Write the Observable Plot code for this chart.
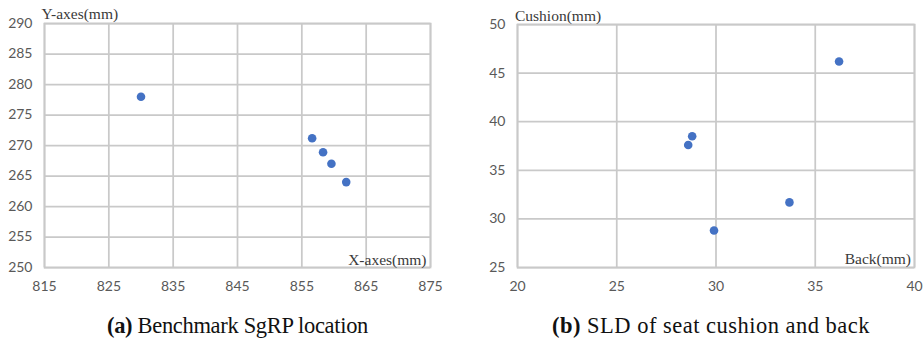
<!DOCTYPE html>
<html><head><meta charset="utf-8">
<script src="https://cdn.jsdelivr.net/npm/d3@7"></script>
<script src="https://cdn.jsdelivr.net/npm/@observablehq/plot@0.6"></script>
<style>
body{margin:0;background:#fff;}
#wrap{position:relative;width:923px;height:345px;overflow:hidden;background:#fff;}
#a{position:absolute;left:0;top:0;}
#b{position:absolute;left:460px;top:0;}
.cap{position:absolute;top:314.5px;font-family:"Liberation Serif","Times New Roman",serif;font-size:22.5px;line-height:1;color:#111;white-space:nowrap;}
</style></head><body>
<div id="wrap"><div id="a"></div><div id="b"></div>
<div class="cap" id="capA"><b>(a)</b> Benchmark SgRP location</div>
<div class="cap" id="capB"><b>(b)</b> SLD of seat cushion and back</div>
</div>
<script>
// (a) Benchmark SgRP location
const xA = [830, 856.6, 858.3, 859.6, 861.9];
const yA = [278, 271.2, 268.9, 267.0, 264.0];
const xTicksA = [815, 825, 835, 845, 855, 865, 875];
const yTicksA = [250, 255, 260, 265, 270, 275, 280, 285, 290];
const xLabelA = "X-axes(mm)";
const yLabelA = "Y-axes(mm)";

// (b) SLD of seat cushion and back
const xB = [36.2, 28.8, 28.6, 33.7, 29.9];
const yB = [46.2, 38.5, 37.6, 31.7, 28.8];
const xTicksB = [20, 25, 30, 35, 40];
const yTicksB = [25, 30, 35, 40, 45, 50];
const xLabelB = "Back(mm)";
const yLabelB = "Cushion(mm)";

const GRID = "#c9c9c9";
const serif = '"Liberation Serif", "Times New Roman", serif';

// captions: keep one size, spread letters to the reference's extents
function placeCap(id, left, right) {
  const el = document.getElementById(id);
  const w = el.getBoundingClientRect().width;
  const n = el.textContent.length;
  el.style.letterSpacing = ((right - left - w) / n) + "px";
  el.style.left = left + "px";
}
placeCap("capA", 107, 368);
placeCap("capB", 552, 870);

function chart(xs, ys, xTicks, yTicks, xLabel, yLabel, o) {
  const data = xs.map((x, i) => ({x, y: ys[i]}));
  return Plot.plot({
    width: o.width, height: 300,
    marginLeft: o.ml, marginRight: o.mr, marginTop: o.mt, marginBottom: o.mb,
    x: {domain: [xTicks[0], xTicks[xTicks.length - 1]]},
    y: {domain: [yTicks[0], yTicks[yTicks.length - 1]]},
    style: {fontFamily: "Lato, sans-serif", fontSize: "14px", color: "#595959", background: "#fff", overflow: "visible"},
    marks: [
      Plot.gridX(xTicks, {stroke: GRID, strokeOpacity: 1, strokeWidth: 1.75}),
      Plot.gridY(yTicks, {stroke: GRID, strokeOpacity: 1, strokeWidth: 1.75}),
      Plot.frame({stroke: GRID, strokeWidth: 1.75}),
      Plot.axisX(xTicks, {tickSize: 0, tickPadding: 14, label: null, fill: "#595959", fontSize: 14}),
      Plot.axisY(yTicks, {tickSize: 0, tickPadding: 12, label: null, fill: "#595959", fontSize: 14}),
      Plot.dot(data, {x: "x", y: "y", r: 4.3, fill: "#4472C4", stroke: "none"}),
      Plot.text([yLabel], {text: d => d, frameAnchor: "top-left", textAnchor: "start", lineAnchor: "bottom", dx: o.ydx, dy: o.ydy, fontFamily: serif, fontSize: 15.5, fill: "#3a3a3a"}),
      Plot.text([xLabel], {text: d => d, frameAnchor: "bottom-right", textAnchor: "end", lineAnchor: "bottom", dx: o.xdx, dy: o.xdy, fontFamily: serif, fontSize: 15.5, fill: "#3a3a3a"})
    ]
  });
}

document.getElementById("a").append(chart(xA, yA, xTicksA, yTicksA, xLabelA, yLabelA,
  {width: 460, ml: 44, mr: 30, mt: 23, mb: 33, ydx: -3, ydy: -4.5, xdx: -4, xdy: -3}));
document.getElementById("b").append(chart(xB, yB, xTicksB, yTicksB, xLabelB, yLabelB,
  {width: 463, ml: 57, mr: 9, mt: 24, mb: 33, ydx: -2.5, ydy: -4, xdx: -3.5, xdy: -4}));
</script>
</body></html>
